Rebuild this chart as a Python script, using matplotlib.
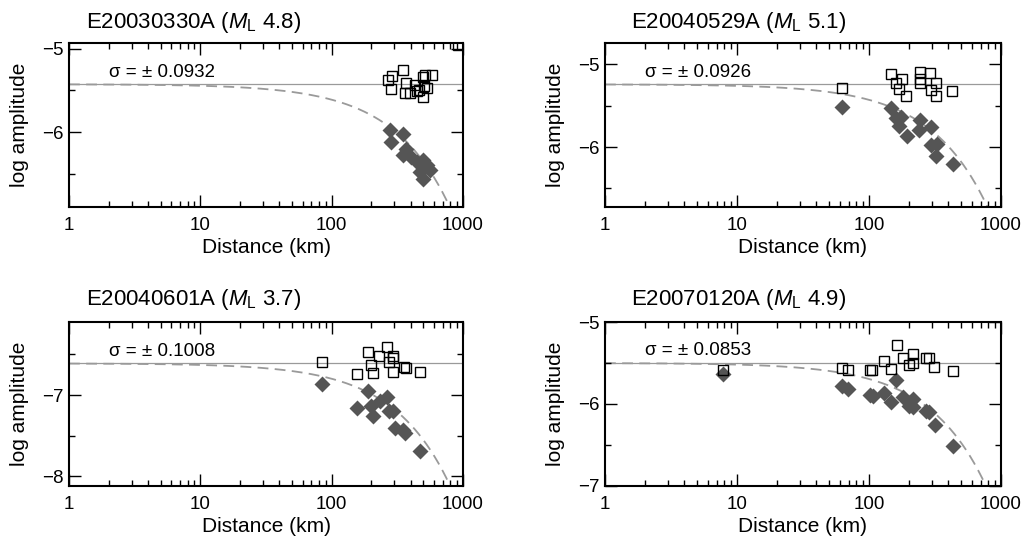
import matplotlib
matplotlib.use('Agg')
import matplotlib.pyplot as plt
from matplotlib.ticker import FixedLocator, NullFormatter
import numpy as np

plt.rcParams['font.family'] = ['Liberation Sans', 'DejaVu Sans']
plt.rcParams['mathtext.fontset'] = 'custom'
plt.rcParams['mathtext.rm'] = 'Liberation Sans'
plt.rcParams['mathtext.it'] = 'Liberation Sans:italic'

# Event names and local magnitudes
events = ['E20030330A', 'E20040529A', 'E20040601A', 'E20070120A']
magnitudes = ['4.8', '5.1', '3.7', '4.9']
sigmas = ['0.0932', '0.0926', '0.1008', '0.0853']

# Reference level (log amplitude at 1 km) and attenuation slope per km
ref_level = [-5.425, -5.24, -6.61, -5.50]
atten = [0.00186, 0.00188, 0.00189, 0.00195]

# Corrected amplitudes (open squares): distance (km), log amplitude
sq_dist_1 = [269, 286, 281, 350, 365, 361, 398, 430, 443, 492, 512, 576, 503, 533, 497, 463, 918]
sq_amp_1 = [-5.37, -5.33, -5.48, -5.25, -5.41, -5.53, -5.53, -5.43, -5.51, -5.34, -5.31, -5.31,
            -5.45, -5.47, -5.58, -5.49, -4.95]
sq_dist_2 = [62, 146, 159, 179, 169, 192, 245, 245, 245, 292, 324, 297, 324, 425]
sq_amp_2 = [-5.28, -5.12, -5.23, -5.18, -5.30, -5.38, -5.09, -5.17, -5.23, -5.10, -5.23, -5.31,
            -5.38, -5.32]
sq_dist_3 = [85, 190, 230, 265, 291, 294, 198, 155, 205, 274, 294, 355, 367, 469]
sq_amp_3 = [-6.59, -6.47, -6.52, -6.41, -6.52, -6.54, -6.63, -6.74, -6.73, -6.59, -6.71, -6.66,
            -6.67, -6.72]
sq_dist_4 = [7.9, 62, 69, 101, 105, 131, 147, 162, 180, 202, 214, 214, 270, 287, 313, 431]
sq_amp_4 = [-5.58, -5.56, -5.58, -5.58, -5.58, -5.48, -5.57, -5.285, -5.44, -5.53, -5.39, -5.50,
            -5.44, -5.44, -5.55, -5.60]

# Observed amplitudes (filled diamonds)
dm_dist_1 = [277, 281, 350, 371, 350, 405, 443, 497, 528, 559, 497, 469]
dm_amp_1 = [-5.98, -6.12, -6.02, -6.20, -6.28, -6.30, -6.36, -6.34, -6.40, -6.46, -6.56, -6.48]
dm_dist_2 = [62, 147, 160, 175, 170, 194, 243, 238, 295, 295, 326, 322, 431]
dm_amp_2 = [-5.51, -5.53, -5.65, -5.63, -5.75, -5.87, -5.67, -5.79, -5.76, -5.98, -5.96, -6.11,
            -6.21]
dm_dist_3 = [85, 190, 156, 201, 205, 233, 265, 274, 294, 303, 350, 361, 469]
dm_amp_3 = [-6.86, -6.95, -7.16, -7.13, -7.26, -7.07, -7.02, -7.20, -7.20, -7.40, -7.43, -7.47,
            -7.69]
dm_dist_4 = [7.9, 62, 69, 102, 107, 131, 147, 160, 180, 202, 214, 214, 270, 287, 318, 436]
dm_amp_4 = [-5.64, -5.775, -5.82, -5.885, -5.90, -5.86, -5.98, -5.705, -5.91, -6.02, -5.94, -6.04,
            -6.08, -6.10, -6.26, -6.51]

squares = [(sq_dist_1, sq_amp_1), (sq_dist_2, sq_amp_2), (sq_dist_3, sq_amp_3), (sq_dist_4, sq_amp_4)]
diamonds = [(dm_dist_1, dm_amp_1), (dm_dist_2, dm_amp_2), (dm_dist_3, dm_amp_3), (dm_dist_4, dm_amp_4)]

# y-axis ranges
ylims = [(-6.9, -4.93), (-6.725, -4.74), (-8.12, -6.10), (-7.0, -5.0)]

W, H = 1026, 539
# axes boxes in pixels: left, top, right, bottom
boxes = [(69, 43, 463, 207), (605, 43, 1001, 207),
         (69, 322, 463, 486), (605, 322, 1001, 486)]
title_pos = [(86, 28), (631, 28), (86, 305), (631, 305)]


def draw_panel(fig, i):
    l, t, r, b = boxes[i]
    ax = fig.add_axes([l / W, 1 - b / H, (r - l) / W, (b - t) / H])
    ax.set_xscale('log')
    ax.set_xlim(1, 1000)
    ax.set_ylim(*ylims[i])

    # reference level and attenuation model
    ax.axhline(ref_level[i], color='#9a9a9a', lw=0.9, zorder=1)
    dist = np.geomspace(1, 1000, 400)
    ax.plot(dist, ref_level[i] - atten[i] * dist, color='#9a9a9a', lw=1.3,
            dashes=(6, 3.5), zorder=1)

    dx, dy = diamonds[i]
    ax.plot(dx, dy, 'D', color='#555555', ms=8.6, mec='none', zorder=3)
    sx, sy = squares[i]
    ax.plot(sx, sy, 's', mfc='none', mec='black', mew=1.0, ms=7.4, zorder=4)

    ax.annotate('\u03c3 = \u00b1 ' + sigmas[i], (2, ref_level[i]), xytext=(0, 5.5),
                textcoords='offset points', va='baseline', ha='left', fontsize=13.5)

    # ticks
    lo, hi = ylims[i]
    major = np.arange(np.ceil(lo), np.floor(hi) + 0.01, 1.0)
    minor = np.arange(np.ceil(lo * 2) / 2, hi + 0.01, 0.5)
    minor = [m for m in minor if m % 1 != 0]
    ax.yaxis.set_major_locator(FixedLocator(major))
    ax.yaxis.set_minor_locator(FixedLocator(minor))
    ax.yaxis.set_minor_formatter(NullFormatter())
    ax.set_yticklabels([f'{int(v)}'.replace('-', '\u2212') for v in major])
    ax.set_xticks([1, 10, 100, 1000])
    ax.set_xticklabels(['1', '10', '100', '1000'])
    ax.tick_params(axis='both', which='major', direction='in', length=8.5, width=1,
                   top=True, right=True, labelsize=13.5, pad=4)
    ax.tick_params(axis='x', which='major', pad=7)
    ax.tick_params(axis='both', which='minor', direction='in', length=4.3, width=1,
                   top=True, right=True)
    for s in ax.spines.values():
        s.set_linewidth(1.5)

    ax.set_xlabel('Distance (km)', fontsize=15, labelpad=3)
    ax.set_ylabel('log amplitude', fontsize=15, labelpad=9)

    tx, ty = title_pos[i]
    fig.text(tx / W, 1 - ty / H, events[i] + r' ($M_\mathrm{L}$ ' + magnitudes[i] + ')',
             fontsize=16, ha='left', va='baseline')
    return ax


def main():
    fig = plt.figure(figsize=(W / 100, H / 100), dpi=100)
    for i in range(4):
        draw_panel(fig, i)
    fig.savefig('out.png', dpi=100)
    plt.close(fig)


if __name__ == "__main__":
    main()
